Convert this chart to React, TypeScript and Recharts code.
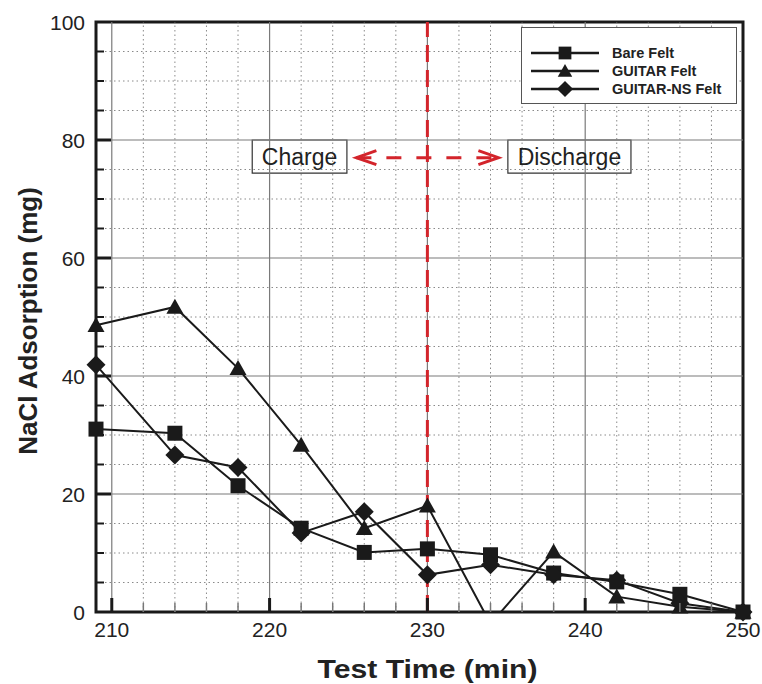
import { LineChart, Line, XAxis, YAxis, ReferenceLine, ReferenceArea } from 'recharts'

const times = [209, 214, 218, 222, 226, 230, 234, 238, 242, 246, 250]
const bareFelt = [31.0, 30.3, 21.4, 14.2, 10.1, 10.7, 9.7, 6.6, 5.1, 3.0, 0]
const guitarFelt = [48.6, 51.7, 41.3, 28.3, 14.2, 18.0, -2.0, 10.2, 2.6, 0.9, 0]
const guitarNsFelt = [41.9, 26.6, 24.5, 13.4, 17.0, 6.3, 8.0, 6.3, 5.4, 1.5, 0]

const xTicks = [210, 212, 214, 216, 218, 220, 222, 224, 226, 228, 230, 232, 234, 236, 238, 240, 242, 244, 246, 248, 250]
const xMajor = [210, 220, 230, 240]
const yTicks = [0, 5, 10, 15, 20, 25, 30, 35, 40, 45, 50, 55, 60, 65, 70, 75, 80, 85, 90, 95, 100]
const yMajor = [20, 40, 60, 80]

const FONT = '"Liberation Sans", Arial, Helvetica, sans-serif'
const RED = '#d3242b'
const INK = '#1a1a1a'

const SERIES = [
  { key: 'bare', name: 'Bare Felt', marker: 'square' },
  { key: 'guitar', name: 'GUITAR Felt', marker: 'triangle' },
  { key: 'guitarNs', name: 'GUITAR-NS Felt', marker: 'diamond' },
]

// markers are drawn from a copy that drops the points below the axis
const rows = times.map((t, i) => ({
  t,
  bare: bareFelt[i],
  guitar: guitarFelt[i],
  guitarNs: guitarNsFelt[i],
  bareMark: bareFelt[i] < 0 ? null : bareFelt[i],
  guitarMark: guitarFelt[i] < 0 ? null : guitarFelt[i],
  guitarNsMark: guitarNsFelt[i] < 0 ? null : guitarNsFelt[i],
}))

function MarkerShape({ kind, cx, cy, scale = 1 }: { kind: string; cx?: number; cy?: number; scale?: number }) {
  if (cx == null || cy == null || isNaN(cx) || isNaN(cy)) return null
  if (kind === 'square') {
    const s = 15 * scale
    return <rect x={cx - s / 2} y={cy - s / 2} width={s} height={s} fill={INK} />
  }
  if (kind === 'triangle') {
    const w = 17 * scale
    const h = 15 * scale
    return (
      <polygon
        points={`${cx},${cy - h * 0.55} ${cx + w / 2},${cy + h * 0.45} ${cx - w / 2},${cy + h * 0.45}`}
        fill={INK}
      />
    )
  }
  const r = 9.5 * scale
  return <polygon points={`${cx},${cy - r} ${cx + r},${cy} ${cx},${cy + r} ${cx - r},${cy}`} fill={INK} />
}

function XTick({ x, y, payload }: any) {
  const v = payload.value
  const major = v % 10 === 0
  return (
    <g>
      {v < 250 && (
        <line
          x1={x}
          x2={x}
          y1={y}
          y2={y - (major ? 14 : 9)}
          stroke={major ? INK : '#777'}
          strokeWidth={major ? 3 : 1.5}
        />
      )}
      {major && (
        <text x={x} y={y + 25} textAnchor="middle" fontSize={21} fill="#222" fontFamily={FONT}>
          {v}
        </text>
      )}
    </g>
  )
}

function YTick({ x, y, payload }: any) {
  const v = payload.value
  const major = v % 20 === 0
  return (
    <g>
      {v > 0 && v < 100 && (
        <line x1={x} x2={x + (major ? 15 : 8)} y1={y} y2={y} stroke={INK} strokeWidth={major ? 3 : 2} />
      )}
      {major && (
        <text x={x - 11} y={y} dy="0.36em" textAnchor="end" fontSize={21} fill="#222" fontFamily={FONT}>
          {v}
        </text>
      )}
    </g>
  )
}

function ArrowShape(props: any) {
  const { x1, y1, x2 } = props
  if (x1 == null) return null
  const arm = 20
  const spread = 7
  return (
    <g stroke={RED} strokeWidth={3} fill="none">
      <line x1={x1} y1={y1} x2={x2} y2={y1} strokeDasharray="15 15" strokeDashoffset={-30} />
      <polyline points={`${x1 + arm},${y1 - spread} ${x1},${y1} ${x1 + arm},${y1 + spread}`} />
      <polyline points={`${x2 - arm},${y1 - spread} ${x2},${y1} ${x2 - arm},${y1 + spread}`} />
    </g>
  )
}

function LegendBox() {
  return (
    <div
      style={{
        position: 'absolute',
        left: 521,
        top: 27,
        width: 214,
        height: 75,
        border: '1.5px solid #555',
        background: '#fff',
      }}
    >
      <svg width={214} height={75}>
        {SERIES.map((s, i) => {
          const cy = 25 + i * 18
          return (
            <g key={s.key}>
              <line x1={9} x2={77} y1={cy} y2={cy} stroke={INK} strokeWidth={2.5} />
              <MarkerShape kind={s.marker} cx={43} cy={cy} scale={0.85} />
              <text x={90} y={cy} dy="0.36em" fontSize={14.5} fontWeight="bold" fill="#222" fontFamily={FONT}>
                {s.name}
              </text>
            </g>
          )
        })}
      </svg>
    </div>
  )
}

export default function App() {
  return (
    <div style={{ position: 'absolute', left: 0, top: 0, width: 762, height: 684, background: '#fff' }}>
      <LineChart width={762} height={684} data={rows} margin={{ top: 22, right: 19, bottom: 0, left: 0 }}>
        <XAxis
          dataKey="t"
          type="number"
          domain={[209, 250]}
          ticks={xTicks}
          interval={0}
          tick={<XTick />}
          tickSize={0}
          tickMargin={0}
          tickLine={false}
          axisLine={false}
          height={72}
          label={({ viewBox }: any) => (
            <text
              x={viewBox.x + viewBox.width / 2 + 8}
              y={viewBox.y + 66}
              textAnchor="middle"
              fontSize={25}
              fontWeight="bold"
              fill="#222"
              fontFamily={FONT}
              textLength={220}
              lengthAdjust="spacingAndGlyphs"
            >
              Test Time (min)
            </text>
          )}
        />
        <YAxis
          yAxisId="main"
          type="number"
          domain={[0, 100]}
          ticks={yTicks}
          interval={0}
          tick={<YTick />}
          tickSize={0}
          tickMargin={0}
          tickLine={false}
          axisLine={false}
          width={96}
          label={({ viewBox }: any) => {
            const cx = viewBox.x + 37
            const cy = viewBox.y + viewBox.height / 2 + 4
            return (
              <text
                x={cx}
                y={cy}
                transform={`rotate(-90 ${cx} ${cy})`}
                textAnchor="middle"
                fontSize={26}
                fontWeight="bold"
                fill="#222"
                fontFamily={FONT}
              >
                NaCl Adsorption (mg)
              </text>
            )
          }}
        />
        <YAxis yAxisId="clip" orientation="right" type="number" domain={[0, 100]} allowDataOverflow hide width={0} />

        {/* grid */}
        {xTicks
          .filter((v) => v % 10 !== 0)
          .map((v) => (
            <ReferenceLine key={`mx${v}`} x={v} yAxisId="main" stroke="#8a8a8a" strokeWidth={1} strokeDasharray="1.5 3" />
          ))}
        {yTicks
          .filter((v) => v % 20 !== 0)
          .map((v) => (
            <ReferenceLine key={`my${v}`} y={v} yAxisId="main" stroke="#8a8a8a" strokeWidth={1} strokeDasharray="1.5 3" />
          ))}
        {xMajor.map((v) => (
          <ReferenceLine key={`Mx${v}`} x={v} yAxisId="main" stroke="#7a7a7a" strokeWidth={1.2} />
        ))}
        {yMajor.map((v) => (
          <ReferenceLine key={`My${v}`} y={v} yAxisId="main" stroke="#7a7a7a" strokeWidth={1.2} />
        ))}

        <ReferenceLine x={230} yAxisId="main" stroke={RED} strokeWidth={3} strokeDasharray="17 8" />

        <ReferenceArea
          x1={218.9}
          x2={224.9}
          y1={74.4}
          y2={80}
          yAxisId="main"
          fill="#fff"
          fillOpacity={1}
          stroke="#333"
          strokeWidth={1.2}
          label={{ value: 'Charge', position: 'center', fontSize: 23, fill: '#222', fontFamily: FONT }}
        />
        <ReferenceArea
          x1={235.1}
          x2={242.9}
          y1={74.4}
          y2={80}
          yAxisId="main"
          fill="#fff"
          fillOpacity={1}
          stroke="#333"
          strokeWidth={1.2}
          label={{ value: 'Discharge', position: 'center', fontSize: 23, fill: '#222', fontFamily: FONT }}
        />
        <ReferenceLine
          yAxisId="main"
          segment={[
            { x: 225.5, y: 77 },
            { x: 234.5, y: 77 },
          ]}
          shape={(p: any) => <ArrowShape {...p} />}
        />

        <ReferenceArea x1={209} x2={250} y1={0} y2={100} yAxisId="main" fill="none" stroke={INK} strokeWidth={3} />

        {SERIES.map((s) => (
          <Line
            key={s.key}
            yAxisId="clip"
            dataKey={s.key}
            stroke={INK}
            strokeWidth={2}
            dot={false}
            activeDot={false}
            isAnimationActive={false}
          />
        ))}
        {SERIES.map((s) => (
          <Line
            key={`${s.key}Mark`}
            yAxisId="main"
            dataKey={`${s.key}Mark`}
            stroke="none"
            dot={(p: any) => <MarkerShape key={p.key} kind={s.marker} cx={p.cx} cy={p.cy} />}
            activeDot={false}
            isAnimationActive={false}
          />
        ))}
      </LineChart>
      <LegendBox />
    </div>
  )
}
